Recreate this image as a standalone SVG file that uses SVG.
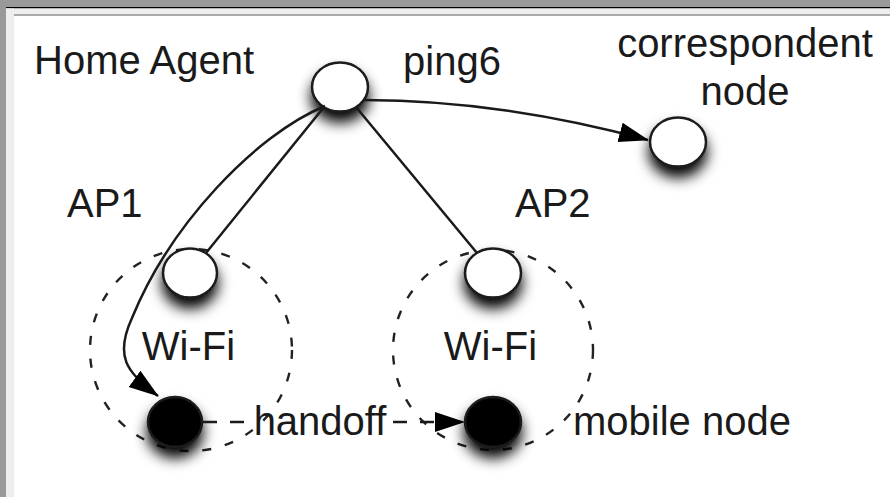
<svg xmlns="http://www.w3.org/2000/svg" width="890" height="497" viewBox="0 0 890 497">
<style>
.t{font-family:"Liberation Sans",Arial,sans-serif;font-size:40px;fill:#1a1a1a}
.n{stroke:#1a1a1a;stroke-width:2.5}
.w{fill:#fff}
.b{fill:#000}
.cell{fill:none;stroke:#222;stroke-width:2.4;stroke-dasharray:9 14}
.c{fill:none;stroke:#1a1a1a;stroke-width:2.5}
.d{stroke-dasharray:14 13}
</style>
<defs>
<filter id="sh" x="-70%" y="-70%" width="240%" height="260%">
<feDropShadow dx="0" dy="10" stdDeviation="7" flood-color="#000" flood-opacity="1"/>
</filter>
<marker id="arr" viewBox="0 0 30 22" refX="29" refY="11" markerWidth="30" markerHeight="22" markerUnits="userSpaceOnUse" orient="auto">
<path d="M0 1 L30 11 L0 21 Z" fill="#000"/>
</marker>
</defs>
<rect x="0" y="0" width="890" height="497" fill="#fff"/>
<g id="frame">
<rect x="0" y="0" width="890" height="7" fill="#999"/>
<rect x="0" y="0" width="6" height="497" fill="#999"/>
<rect x="6" y="7" width="884" height="1.5" fill="#000"/>
<rect x="6" y="8.5" width="884" height="5.5" fill="#eee"/>
<rect x="6" y="8.5" width="8" height="488.5" fill="#eee"/>
<rect x="14" y="14" width="876" height="2" fill="#aaa"/>
</g>
<g id="wifi1">
<circle class="cell" cx="191" cy="350" r="101"/>
<text class="t" x="188.5" y="360" text-anchor="middle">Wi-Fi</text>
</g>
<g id="wifi2">
<circle class="cell" cx="493" cy="350" r="100"/>
<text class="t" x="490.5" y="360" text-anchor="middle">Wi-Fi</text>
</g>
<g id="ha">
<ellipse class="n w" cx="340" cy="87" rx="28" ry="24.5" filter="url(#sh)"/>
<text class="t" x="34" y="74">Home Agent</text>
</g>
<g id="cn">
<ellipse class="n w" cx="678" cy="142" rx="28" ry="24.5" filter="url(#sh)"/>
<text class="t" x="745" y="57" text-anchor="middle">correspondent</text>
<text class="t" x="745" y="105" text-anchor="middle">node</text>
</g>
<g id="ap1">
<ellipse class="n w" cx="190" cy="273" rx="27" ry="24.5" filter="url(#sh)"/>
<text class="t" x="67" y="217">AP1</text>
</g>
<g id="ap2">
<ellipse class="n w" cx="493" cy="273" rx="28" ry="24.5" filter="url(#sh)"/>
<text class="t" x="515" y="217">AP2</text>
</g>
<g id="mn1">
<ellipse class="n b" cx="175" cy="422" rx="27" ry="25" filter="url(#sh)"/>
</g>
<g id="mn2">
<ellipse class="n b" cx="493" cy="422" rx="28" ry="25" filter="url(#sh)"/>
<text class="t" x="573" y="435">mobile node</text>
</g>
<g id="connectors">
<line class="c" x1="324" y1="107" x2="206" y2="253"/>
<line class="c" x1="356" y1="107" x2="477" y2="253"/>
<path class="c" d="M325 106 C255 135 170 225 132 318 C115 355 125 372 158 396" marker-end="url(#arr)"/>
<path class="c" d="M364 100 Q500 100 648 140" marker-end="url(#arr)"/>
<text class="t" x="403" y="75">ping6</text>
<path class="c d" d="M203 422 H250 M393 422 H464" marker-end="url(#arr)"/>
<text class="t" x="320" y="435" text-anchor="middle">handoff</text>
</g>
</svg>
